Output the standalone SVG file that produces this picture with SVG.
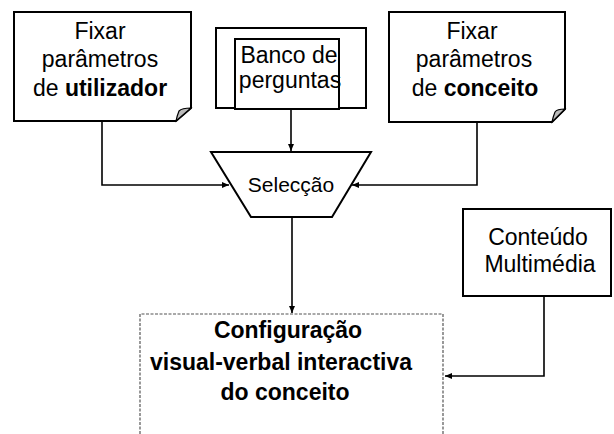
<svg xmlns="http://www.w3.org/2000/svg" width="614" height="434" viewBox="0 0 614 434">
<style>
.box{fill:#fff;stroke:#000;stroke-width:2}
.fold{fill:#bbb;stroke:#000;stroke-width:1.2}
.t{font-family:"Liberation Sans",Arial,sans-serif;font-size:23px;fill:#000;text-anchor:middle}
.b{font-weight:bold}
.c{fill:none;stroke:#000;stroke-width:1.6}
</style>
<defs>
<marker id="ah" markerWidth="8" markerHeight="8" refX="7" refY="4" orient="auto" markerUnits="userSpaceOnUse">
<path d="M0,1 L7,4 L0,7 Z" fill="#000"/>
</marker>
</defs>
<rect width="614" height="434" fill="#fff"/>
<g id="connectors">
<path class="c" d="M102,122 V185 H229" marker-end="url(#ah)"/>
<path class="c" d="M477,123 V185 H352" marker-end="url(#ah)"/>
<path class="c" d="M291,109 V151" marker-end="url(#ah)"/>
<path class="c" d="M292,217 V313" marker-end="url(#ah)"/>
<path class="c" d="M544,296 V376 H445" marker-end="url(#ah)"/>
</g>
<g id="fixar-utilizador">
<path class="box" d="M14,12 H191 V108 L176,121 H14 Z"/>
<path class="fold" d="M191,108 Q182,108 179,111 Q177,116 176,121 Z"/>
<text class="t" x="100" y="39">Fixar</text>
<text class="t" x="100" y="67">parâmetros</text>
<text class="t" x="100" y="96">de <tspan class="b">utilizador</tspan></text>
</g>
<g id="banco">
<rect class="box" x="216" y="28" width="150" height="80"/>
<rect class="box" x="235" y="39" width="104" height="70"/>
<text class="t" x="289" y="63">Banco de</text>
<text class="t" x="290" y="88">perguntas</text>
</g>
<g id="fixar-conceito">
<path class="box" d="M389,12 H565 V109 L552,122 H389 Z"/>
<path class="fold" d="M565,109 Q557,109 555,112 Q553,117 552,122 Z"/>
<text class="t" x="472" y="39">Fixar</text>
<text class="t" x="474" y="67">parâmetros</text>
<text class="t" x="475" y="96">de <tspan class="b">conceito</tspan></text>
</g>
<g id="seleccao">
<path class="box" d="M211,152 H371 L332,217 H251 Z"/>
<text class="t" x="291" y="192" style="font-size:21px">Selecção</text>
</g>
<g id="conteudo">
<rect class="box" x="463" y="209" width="148" height="87"/>
<text class="t" x="538" y="245">Conteúdo</text>
<text class="t" x="540" y="272">Multimédia</text>
</g>
<g id="configuracao">
<path d="M140,434 V314 H443 V434" fill="none" stroke="#555" stroke-width="1.2" stroke-dasharray="3,1.5"/>
<text class="t b" x="288" y="338">Configuração</text>
<text class="t b" x="281" y="370">visual-verbal interactiva</text>
<text class="t b" x="285" y="400">do conceito</text>
</g>
</svg>
